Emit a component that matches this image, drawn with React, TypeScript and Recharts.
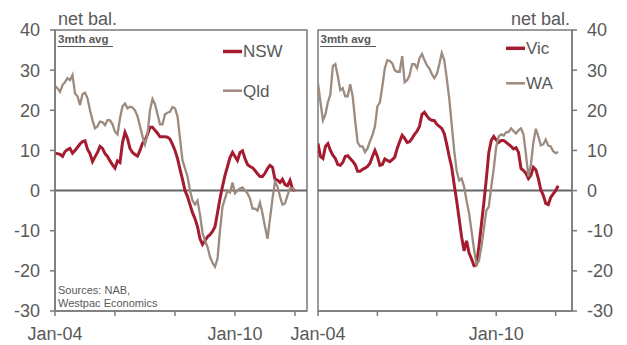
import React from "react";
import { LineChart, Line, XAxis, YAxis, ReferenceLine, ReferenceArea } from "recharts";

// Monthly, Jan-04 onward (index = months since Jan-04)
const nsw = [
  9.3, 9.2, 9.0, 8.5, 9.7, 10.2, 10.5, 9.3, 10.0, 10.8,
  11.6, 12.2, 12.4, 10.3, 9.2, 7.2, 8.4, 9.5, 11.0, 10.5,
  9.2, 8.5, 7.4, 6.4, 5.6, 7.4, 7.0, 12.0, 14.5, 13.0,
  10.5, 9.5, 9.0, 8.6, 10.0, 11.8, 12.5, 14.0, 15.8, 15.8,
  15.0, 14.3, 13.4, 13.4, 13.4, 13.3, 12.8, 11.5, 10.0, 8.0,
  5.3, 2.8, 0.0, -1.5, -3.5, -5.5, -7.0, -9.0, -12.0, -13.4,
  -12.5, -11.5, -11.0, -10.2, -9.0, -5.5, -2.0, 1.0, 3.8, 6.0,
  8.2, 9.5, 8.5, 7.5, 9.5, 9.9, 8.0, 6.5, 6.0, 5.7,
  5.0, 4.2, 3.5, 3.5, 4.3, 5.5, 6.3, 5.8, 2.8, 2.6,
  2.0, 2.8, 1.5, 1.2, 2.5, 0.4, -0.1,
];
const qld = [
  26, 25.5, 24.6, 26.3, 27, 28, 27.5, 28.8, 24.2, 23.5,
  21.3, 24, 24.4, 23, 20, 17.5, 15.5, 16, 17.2, 17,
  16.3, 17.6, 17.5, 16.5, 14.7, 14, 18, 21, 21.7, 20.5,
  20.9, 20.7, 20, 18.5, 16, 13.5, 11.5, 14, 20, 22.8,
  21.5, 19, 16.5, 16.5, 19, 19.4, 19.6, 20.8, 20.5, 18.5,
  13, 7.5, 5.5, 3.5, 0, -2.5, -3.5, -2.5, -6, -10.5,
  -12.5, -14, -16.5, -18, -19, -17, -10, -4, -2, 0,
  -0.5, 2, -0.7, 0, 0.5, 0.8, 0, -0.7, -2, -4.5,
  -4.5, -5, -3, -5.7, -9, -12, -7, -2, 2.2, 1,
  -1.5, -3.5, -3.2, -1.2, 0.5, 0.6, 0,
];
const vic = [
  11.7, 8.5, 8.0, 11, 11.7, 10, 8.8, 8, 6.5, 6.3,
  7, 8.5, 8.7, 8, 7.3, 6.5, 4.8, 4.8, 5.3, 5.6,
  6, 6.8, 8.5, 10, 8.5, 6.3, 6.5, 7.9, 7.5, 7.2,
  7.7, 8.3, 10.5, 12.2, 13.8, 13, 12, 12.2, 13, 14,
  14.8, 16, 19, 19.5, 18.6, 17.8, 17.5, 17.4, 16.5, 16,
  15.5, 14.2, 11.5, 8.5, 5.8, 1.5, -2.5, -7, -11.5, -15,
  -12.5, -15.5, -17, -18.7, -18.5, -14, -8.5, -3, 3, 9.5,
  12.5, 13.5, 12.6, 12, 12.5, 12.5, 12, 11.5, 11, 10.4,
  10.7, 9.5, 5.5, 5, 4.3, 3, 3.8, 5.8, 5.2, 3,
  0.2, -1.2, -3.2, -3.5, -1.7, -0.8, 0, 1.2,
];
const wa = [
  26.7, 22, 17.5, 19, 22, 24, 31, 31.5, 28.5, 25,
  25.5, 23.5, 23.5, 26.5, 23.5, 17.5, 12, 11, 11, 9.6,
  10.5, 12.3, 13.8, 16, 21, 22, 26, 30.5, 32.5, 32.3,
  31.7, 30, 29.6, 29.6, 33.5, 27, 27.5, 28.7, 31.5, 31.5,
  30.5, 33, 34, 32.5, 31.2, 30.4, 29, 28, 29, 31.5,
  34.3, 32.5, 28, 23, 16.5, 10, 5, 2.5, 3, 1,
  -2.5, -5.5, -10, -14.5, -18.5, -17.5, -14, -9.5, -5, -4,
  1, 5.5, 11, 13.5, 14, 13.7, 14.5, 14.6, 15.5, 14.8,
  14.2, 15, 15.5, 14, 9, 3.5, 6.5, 12, 15.4, 13.5,
  11.3, 11.5, 12.7, 11.2, 11, 9.8, 9.3, 9.6,
];

const xTicks = [0, 24, 48, 72, 96];
const xTickLabels = ["Jan-04", "", "", "Jan-10", ""];
const yTicks = [-30, -20, -10, 0, 10, 20, 30, 40];

const RED = "#A51C30";
const TAUPE = "#9C8B7E";
const TXT = "#595959";
const AX = "#7a7a7a";
const FONT = "'Liberation Sans', Arial, sans-serif";

const rows = (a: number[], b: number[], ka: string, kb: string) =>
  a.map((v, i) => ({ m: i, [ka]: v, [kb]: b[i] }));

const leftData = rows(nsw, qld, "nsw", "qld");
const rightData = rows(vic, wa, "vic", "wa");

const fmtX = (v: number) => {
  const k = xTicks.indexOf(v);
  return k >= 0 ? xTickLabels[k] : "";
};

const tickStyle = { fill: TXT, fontSize: 18, fontFamily: FONT };

export default function App() {
  const LX = [0, 100.8];
  const RX = [0, 102.6];
  return (
    <div style={{ position: "absolute", left: 0, top: 0, width: 627, height: 345, background: "#fff", fontFamily: FONT }}>
      <div style={{ position: "absolute", left: 0, top: 0 }}>
        <LineChart width={312} height={345} data={leftData} margin={{ top: 30, right: 5, bottom: 4, left: 0 }}>
          <XAxis dataKey="m" type="number" domain={LX} ticks={xTicks} tickFormatter={fmtX} interval={0}
            height={30} tickSize={5} tickMargin={11} axisLine={{ stroke: AX, strokeWidth: 1.5 }}
            tickLine={{ stroke: AX, strokeWidth: 1.5 }} tick={tickStyle} allowDataOverflow />
          <YAxis domain={[-30, 40]} ticks={yTicks} interval={0} width={55} tickSize={5} tickMargin={10}
            axisLine={{ stroke: AX, strokeWidth: 1.5 }} tickLine={{ stroke: AX, strokeWidth: 1.5 }} tick={tickStyle} />
          <ReferenceArea x1={LX[0]} x2={LX[1]} y1={-30} y2={40} fill="none" stroke={AX} strokeWidth={1.5} />
          <ReferenceLine y={0} stroke="#666" strokeWidth={2} />
          <Line dataKey="nsw" stroke={RED} strokeWidth={3} dot={false} isAnimationActive={false} />
          <Line dataKey="qld" stroke={TAUPE} strokeWidth={2.3} dot={false} isAnimationActive={false} />
        </LineChart>
      </div>
      <div style={{ position: "absolute", left: 280, top: 0 }}>
        <LineChart width={347} height={345} data={rightData} margin={{ top: 30, right: 0, bottom: 4, left: 38 }}>
          <XAxis dataKey="m" type="number" domain={RX} ticks={xTicks} tickFormatter={fmtX} interval={0}
            height={30} tickSize={5} tickMargin={11} axisLine={{ stroke: AX, strokeWidth: 1.5 }}
            tickLine={{ stroke: AX, strokeWidth: 1.5 }} tick={tickStyle} allowDataOverflow />
          <YAxis orientation="right" domain={[-30, 40]} ticks={yTicks} interval={0} width={55} tickSize={5} tickMargin={10}
            axisLine={{ stroke: AX, strokeWidth: 1.5 }} tickLine={{ stroke: AX, strokeWidth: 1.5 }} tick={tickStyle} />
          <ReferenceArea x1={RX[0]} x2={RX[1]} y1={-30} y2={40} fill="none" stroke={AX} strokeWidth={1.5} />
          <ReferenceLine y={0} stroke="#666" strokeWidth={2} />
          <Line dataKey="vic" stroke={RED} strokeWidth={3} dot={false} isAnimationActive={false} />
          <Line dataKey="wa" stroke={TAUPE} strokeWidth={2.3} dot={false} isAnimationActive={false} />
        </LineChart>
      </div>
      <svg width={627} height={345} style={{ position: "absolute", left: 0, top: 0, pointerEvents: "none" }}>
        <g fontFamily={FONT} fill={TXT}>
          <text x={58} y={25} fontSize={18}>net bal.</text>
          <text x={570} y={25} fontSize={18} textAnchor="end">net bal.</text>

          <text x={58} y={43} fontSize={11.5} fontWeight="bold">3mth avg</text>
          <line x1={57.5} x2={113} y1={46.5} y2={46.5} stroke={TXT} strokeWidth={1} />
          <text x={320.5} y={43} fontSize={11.5} fontWeight="bold">3mth avg</text>
          <line x1={320} x2={376} y1={46.5} y2={46.5} stroke={TXT} strokeWidth={1} />

          <line x1={223} x2={242} y1={51.5} y2={51.5} stroke={RED} strokeWidth={3.5} />
          <text x={243} y={57} fontSize={17}>NSW</text>
          <line x1={223} x2={242} y1={90.7} y2={90.7} stroke={TAUPE} strokeWidth={2.5} />
          <text x={243} y={96.5} fontSize={17}>Qld</text>

          <line x1={506} x2={525} y1={48.3} y2={48.3} stroke={RED} strokeWidth={3.5} />
          <text x={526} y={54} fontSize={17}>Vic</text>
          <line x1={506} x2={525} y1={83.3} y2={83.3} stroke={TAUPE} strokeWidth={2.5} />
          <text x={526} y={89} fontSize={17}>WA</text>

          <text x={58} y={294} fontSize={11}>Sources: NAB,</text>
          <text x={58} y={306.5} fontSize={11}>Westpac Economics</text>
        </g>
      </svg>
    </div>
  );
}
